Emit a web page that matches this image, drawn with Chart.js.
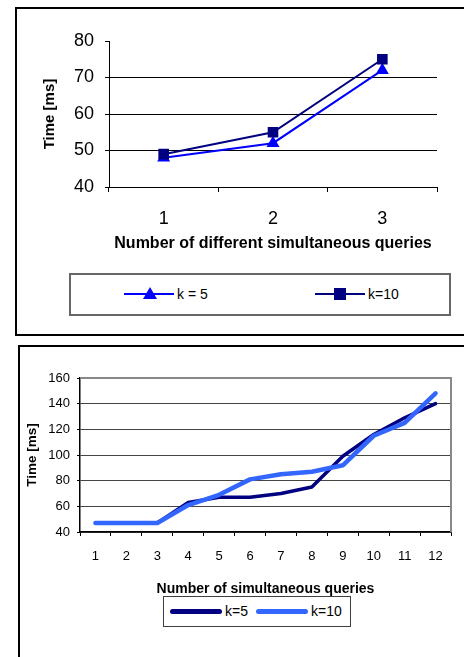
<!DOCTYPE html>
<html>
<head>
<meta charset="utf-8">
<script src="https://cdn.jsdelivr.net/npm/chart.js@4/dist/chart.umd.min.js"></script>
<style>
  body { margin: 0; background: #fff; width: 464px; height: 657px; overflow: hidden; position: relative; font-family: "Liberation Sans", Arial, sans-serif; }
  canvas { position: absolute; left: 0; }
  .frame { position: absolute; border: 2px solid #000; box-sizing: border-box; }
  .legend { position: absolute; box-sizing: border-box; background: #fff; }
  .legend .line { position: absolute; }
  .legend .label { position: absolute; white-space: nowrap; color: #000; }
</style>
</head>
<body>
<div class="frame" style="left:15px; top:7px; width:470px; height:329px;"></div>
<div class="frame" style="left:18px; top:345px; width:470px; height:330px;"></div>
<canvas id="chart1" width="464" height="340" style="top:0"></canvas>
<canvas id="chart2" width="464" height="317" style="top:340px"></canvas>

<div class="legend" style="left:69px; top:273px; width:382px; height:43px; border:2px solid #666;">
  <div class="line" style="left:53px; top:18px; width:50px; height:2px; background:#0000ff;"></div>
  <div class="line" style="left:72px; top:12px; width:0; height:0; border-left:7px solid transparent; border-right:7px solid transparent; border-bottom:12px solid #0000ff;"></div>
  <div class="label" style="left:106px; top:11px; font-size:14px;">k = 5</div>
  <div class="line" style="left:244px; top:18px; width:50px; height:2px; background:#000080;"></div>
  <div class="line" style="left:263px; top:13px; width:12px; height:12px; background:#000080;"></div>
  <div class="label" style="left:297px; top:11px; font-size:14px;">k=10</div>
</div>

<div class="legend" style="left:163px; top:596px; width:188px; height:31px; border:1px solid #404040;">
  <div class="line" style="left:6px; top:12px; width:52px; height:5px; border-radius:3px; background:#000080;"></div>
  <div class="label" style="left:61px; top:6px; font-size:14px;">k=5</div>
  <div class="line" style="left:92px; top:12px; width:52px; height:5px; border-radius:3px; background:#3366ff;"></div>
  <div class="label" style="left:147px; top:6px; font-size:14px;">k=10</div>
</div>

<script>
// chart 1: number of different simultaneous queries
const queries1 = ['1', '2', '3']
const k5Times1 = [48, 52, 72]
const k10Times1 = [49, 55, 75]

// chart 2: number of simultaneous queries
const queries2 = ['1', '2', '3', '4', '5', '6', '7', '8', '9', '10', '11', '12']
const k5Times2 = [47, 47, 47, 63, 67, 67, 70, 75, 99, 116, 129, 140]
const k10Times2 = [47, 47, 47, 61, 69, 81, 85, 87, 92, 115, 125, 148]

const FONT = '"Liberation Sans", Arial, sans-serif'
Chart.defaults.font.family = FONT
Chart.defaults.color = '#000'
Chart.defaults.animation = false

// gray top and right edge of the plot area
const plotEdges = {
  id: 'plotEdges',
  beforeDatasetsDraw(chart, args, opts) {
    const { ctx, chartArea: a } = chart
    ctx.save()
    ctx.strokeStyle = opts.color
    ctx.lineWidth = opts.width
    ctx.beginPath()
    ctx.moveTo(a.left, a.top)
    ctx.lineTo(a.right, a.top)
    ctx.lineTo(a.right, a.bottom)
    ctx.stroke()
    ctx.restore()
  }
}

new Chart(document.getElementById('chart1').getContext('2d'), {
  type: 'line',
  data: {
    labels: queries1,
    datasets: [{
      label: 'k=10',
      data: k10Times1,
      borderColor: '#000080',
      backgroundColor: '#000080',
      borderWidth: 2,
      pointStyle: 'rect',
      pointRadius: 7.5,
      pointBorderWidth: 0,
      tension: 0
    }, {
      label: 'k = 5',
      data: k5Times1,
      borderColor: '#0000ff',
      backgroundColor: '#0000ff',
      borderWidth: 2,
      pointStyle: 'triangle',
      pointRadius: 7.5,
      pointBorderWidth: 0,
      tension: 0
    }]
  },
  options: {
    responsive: false,
    devicePixelRatio: 1,
    layout: { padding: { left: 41, top: 41, right: 27, bottom: 87 } },
    plugins: { legend: { display: false }, tooltip: { enabled: false } },
    scales: {
      x: {
        offset: true,
        grid: { offset: true, drawOnChartArea: false, tickLength: 5, tickColor: '#000', tickWidth: 1 },
        border: { color: '#000', width: 1 },
        ticks: { font: { size: 18 }, padding: 16 },
        title: { display: true, text: 'Number of different simultaneous queries', font: { size: 16, weight: 'bold' }, padding: 0 },
        afterFit(scale) { scale.height = 66 }
      },
      y: {
        min: 40,
        max: 80,
        ticks: { stepSize: 10, font: { size: 18 }, padding: 11 },
        grid: {
          color: (c) => (c.tick && c.tick.value === 80 ? 'rgba(0,0,0,0)' : '#000'),
          tickColor: '#000',
          tickLength: 4,
          lineWidth: 1
        },
        border: { color: '#000', width: 1 },
        title: { display: true, text: 'Time [ms]', font: { size: 15, weight: 'bold' }, padding: 0 },
        afterFit(scale) { scale.width = 68 }
      }
    }
  }
})

new Chart(document.getElementById('chart2').getContext('2d'), {
  type: 'line',
  data: {
    labels: queries2,
    datasets: [{
      label: 'k=10',
      data: k10Times2,
      borderColor: '#3366ff',
      borderWidth: 4.5,
      borderCapStyle: 'round',
      borderJoinStyle: 'round',
      pointRadius: 0,
      tension: 0
    }, {
      label: 'k=5',
      data: k5Times2,
      borderColor: '#000080',
      borderWidth: 3.5,
      borderCapStyle: 'round',
      borderJoinStyle: 'round',
      pointRadius: 0,
      tension: 0
    }]
  },
  plugins: [plotEdges],
  options: {
    responsive: false,
    devicePixelRatio: 1,
    layout: { padding: { left: 24, top: 38, right: 13, bottom: 59 } },
    plugins: {
      legend: { display: false },
      tooltip: { enabled: false },
      plotEdges: { color: '#888', width: 2 }
    },
    scales: {
      x: {
        offset: true,
        grid: { offset: true, drawOnChartArea: false, tickLength: 4, tickColor: '#000', tickWidth: 1 },
        border: { color: '#000', width: 1.5 },
        ticks: { font: { size: 13 }, padding: 13 },
        title: { display: true, text: 'Number of simultaneous queries', font: { size: 14, weight: 'bold' }, padding: 0 },
        afterFit(scale) { scale.height = 66 }
      },
      y: {
        min: 40,
        max: 160,
        ticks: { stepSize: 20, font: { size: 13 }, padding: 7 },
        grid: {
          color: (c) => (c.tick && c.tick.value === 160 ? 'rgba(0,0,0,0)' : '#444'),
          tickColor: '#000',
          tickLength: 3,
          lineWidth: 1
        },
        border: { color: '#000', width: 1.5 },
        title: { display: true, text: 'Time [ms]', font: { size: 13.5, weight: 'bold' }, padding: 0 },
        afterFit(scale) { scale.width = 56 }
      }
    }
  }
})
</script>
</body>
</html>
